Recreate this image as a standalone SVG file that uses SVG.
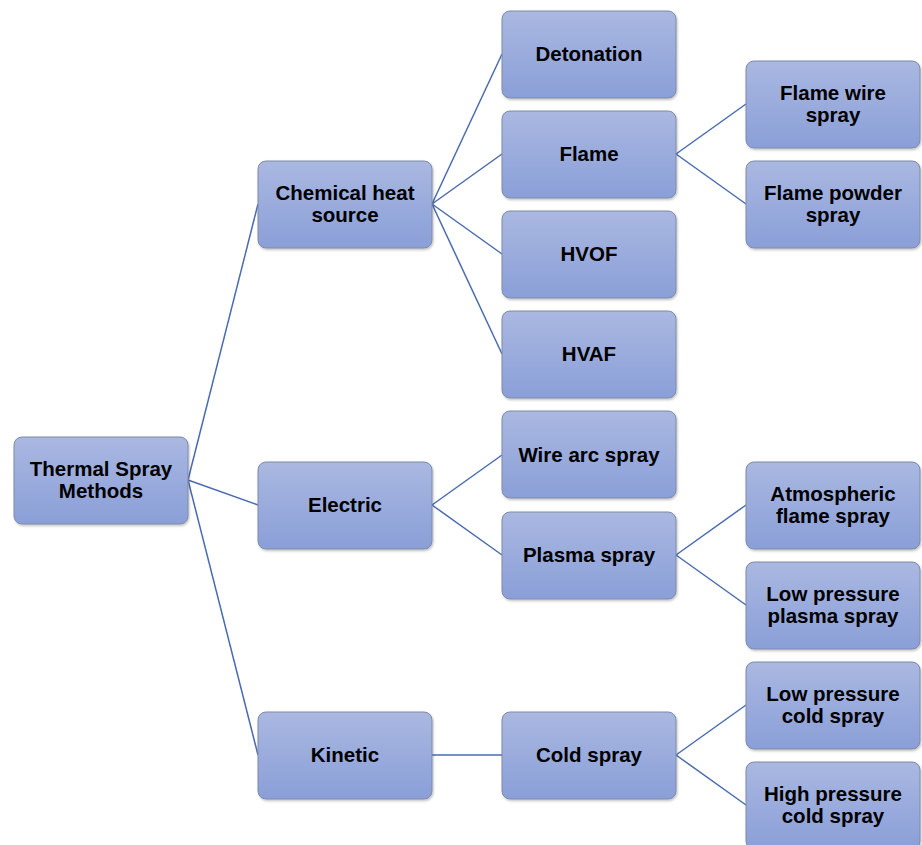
<svg xmlns="http://www.w3.org/2000/svg" width="922" height="845" viewBox="0 0 922 845">
<defs>
<linearGradient id="g" x1="0" y1="0" x2="0" y2="1">
<stop offset="0" stop-color="#AAB8E1"/>
<stop offset="1" stop-color="#8A9FD8"/>
</linearGradient>
<filter id="sh" x="-10%" y="-10%" width="125%" height="130%">
<feDropShadow dx="1" dy="1.5" stdDeviation="1.2" flood-color="#000" flood-opacity="0.25"/>
</filter>
</defs>
<style>
.b{fill:url(#g);stroke:#7F8AA6;stroke-width:1;filter:url(#sh)}
.t{font-family:"Liberation Sans",Arial,sans-serif;font-weight:bold;font-size:20.5px;fill:#000;text-anchor:middle}
.c line{stroke:#4A6BB0;stroke-width:1.5}
</style>
<rect width="922" height="845" fill="#fff"/>
<g class="c" id="connectors">
<line x1="188" y1="480" x2="258" y2="204"/>
<line x1="188" y1="480" x2="258" y2="505"/>
<line x1="188" y1="480" x2="258" y2="755"/>
<line x1="432" y1="204" x2="502" y2="54"/>
<line x1="432" y1="204" x2="502" y2="154"/>
<line x1="432" y1="204" x2="502" y2="254"/>
<line x1="432" y1="204" x2="502" y2="354"/>
<line x1="676" y1="154" x2="746" y2="104"/>
<line x1="676" y1="154" x2="746" y2="204"/>
<line x1="432" y1="505" x2="502" y2="455"/>
<line x1="432" y1="505" x2="502" y2="555"/>
<line x1="676" y1="555" x2="746" y2="505"/>
<line x1="676" y1="555" x2="746" y2="605"/>
<line x1="432" y1="755" x2="502" y2="755"/>
<line x1="676" y1="755" x2="746" y2="705"/>
<line x1="676" y1="755" x2="746" y2="805"/>
</g>
<g id="root"><rect class="b" x="14" y="437" width="174" height="87" rx="8"/><text class="t" x="101" y="476">Thermal Spray</text><text class="t" x="101" y="498">Methods</text></g>
<g id="chemical"><rect class="b" x="258" y="161" width="174" height="87" rx="8"/><text class="t" x="345" y="200">Chemical heat</text><text class="t" x="345" y="222">source</text></g>
<g id="electric"><rect class="b" x="258" y="462" width="174" height="87" rx="8"/><text class="t" x="345" y="512">Electric</text></g>
<g id="kinetic"><rect class="b" x="258" y="712" width="174" height="87" rx="8"/><text class="t" x="345" y="762">Kinetic</text></g>
<g id="detonation"><rect class="b" x="502" y="11" width="174" height="87" rx="8"/><text class="t" x="589" y="61">Detonation</text></g>
<g id="flame"><rect class="b" x="502" y="111" width="174" height="87" rx="8"/><text class="t" x="589" y="161">Flame</text></g>
<g id="hvof"><rect class="b" x="502" y="211" width="174" height="87" rx="8"/><text class="t" x="589" y="261">HVOF</text></g>
<g id="hvaf"><rect class="b" x="502" y="311" width="174" height="87" rx="8"/><text class="t" x="589" y="361">HVAF</text></g>
<g id="wirearc"><rect class="b" x="502" y="411" width="174" height="87" rx="8"/><text class="t" x="589" y="462">Wire arc spray</text></g>
<g id="plasma"><rect class="b" x="502" y="512" width="174" height="87" rx="8"/><text class="t" x="589" y="562">Plasma spray</text></g>
<g id="cold"><rect class="b" x="502" y="712" width="174" height="87" rx="8"/><text class="t" x="589" y="762">Cold spray</text></g>
<g id="flamewire"><rect class="b" x="746" y="61" width="174" height="87" rx="8"/><text class="t" x="833" y="100">Flame wire</text><text class="t" x="833" y="122">spray</text></g>
<g id="flamepowder"><rect class="b" x="746" y="161" width="174" height="87" rx="8"/><text class="t" x="833" y="200">Flame powder</text><text class="t" x="833" y="222">spray</text></g>
<g id="atmospheric"><rect class="b" x="746" y="462" width="174" height="87" rx="8"/><text class="t" x="833" y="501">Atmospheric</text><text class="t" x="833" y="523">flame spray</text></g>
<g id="lpps"><rect class="b" x="746" y="562" width="174" height="87" rx="8"/><text class="t" x="833" y="601">Low pressure</text><text class="t" x="833" y="623">plasma spray</text></g>
<g id="lpcs"><rect class="b" x="746" y="662" width="174" height="87" rx="8"/><text class="t" x="833" y="701">Low pressure</text><text class="t" x="833" y="723">cold spray</text></g>
<g id="hpcs"><rect class="b" x="746" y="762" width="174" height="87" rx="8"/><text class="t" x="833" y="801">High pressure</text><text class="t" x="833" y="823">cold spray</text></g>
</svg>
